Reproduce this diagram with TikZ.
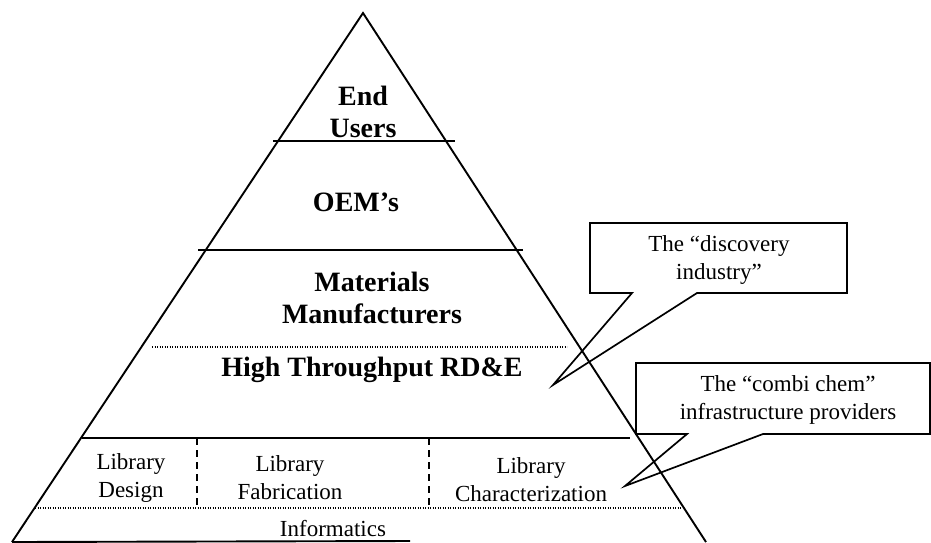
\documentclass[tikz,border=0pt]{standalone}
\usepackage{fontspec}
\setmainfont{Liberation Serif}
\usetikzlibrary{positioning,calc}

\begin{document}
\begin{tikzpicture}[
    x=1pt, y=-1pt,
    tier/.style={font=\fontsize{28}{32}\selectfont\bfseries, align=center, inner sep=0pt},
    cell/.style={font=\fontsize{23}{28}\selectfont, align=center, inner sep=0pt},
    edge/.style={line width=1.9pt},
    divider/.style={line width=1.7pt},
    dotline/.style={line width=1.2pt, dash pattern=on 1.2pt off 1.3pt},
    dashline/.style={line width=1.4pt, dash pattern=on 7pt off 5pt},
    callout/.style={line width=1.7pt, line join=miter},
]
  \useasboundingbox (0,0) rectangle (931,542);

  %––– Pyramid outline –––––––––––––––––––––––––––––––––––––
  \coordinate (apex) at (363,13);
  \coordinate (bl) at (12,542);
  \coordinate (br) at (706,542);
  \coordinate (baseend) at (410,541);
  \draw[edge] (bl) -- (apex) -- (br);
  \draw[edge] (bl) -- (baseend);

  %––– Tier dividers ––––––––––––––––––––––––––––––––––––––––
  \draw[divider] (273,141) coordinate (d1w) -- (455,141) coordinate (d1e);
  \draw[divider] (198,250) coordinate (d2w) -- (523,250) coordinate (d2e);
  \draw[dotline] (152,347) coordinate (d3w) -- (567,347) coordinate (d3e);
  \draw[divider] (82,438) coordinate (d4w) -- (630,438) coordinate (d4e);
  \draw[dotline] (35,508) coordinate (d5w) -- (682,508) coordinate (d5e);

  % library row split
  \draw[dashline] (197,438) coordinate (s1t) -- (197,508) coordinate (s1b);
  \draw[dashline] (429,438) coordinate (s2t) -- (429,508) coordinate (s2b);

  %––– Tier labels ––––––––––––––––––––––––––––––––––––––––––
  \node (endusers) [tier] at (363,112) {End\\Users};
  \node (oems)     [tier] at (356,202) {OEM’s};
  \node (matman)   [tier] at (372,298) {Materials\\Manufacturers};
  \node (htp)      [tier] at (372,370) {High Throughput RD\&E};

  \node (libdes)  [cell] at (131,478) {Library\\Design};
  \node (libfab)  [cell] at (290,478) {Library\\Fabrication};
  \node (libchar) [cell] at (531,480) {Library\\Characterization};
  \node (informatics) [cell] at (333,529) {Informatics};

  %––– Callouts –––––––––––––––––––––––––––––––––––––––––––––
  \coordinate (disctip) at (553,385);
  \draw[callout] (632,293) -- (disctip) -- (697,293)
      -- (847,293) -- (847,223) -- (590,223) -- (590,293) -- cycle;
  \node (disc) [cell] at (719,260) {The “discovery\\industry”};

  \coordinate (combitip) at (625,486);
  \draw[callout] (687,434) -- (combitip) -- (763,434)
      -- (930,434) -- (930,363) -- (636,363) -- (636,434) -- cycle;
  \node (combi) [cell] at (788,400) {The “combi chem”\\infrastructure providers};
\end{tikzpicture}
\end{document}
